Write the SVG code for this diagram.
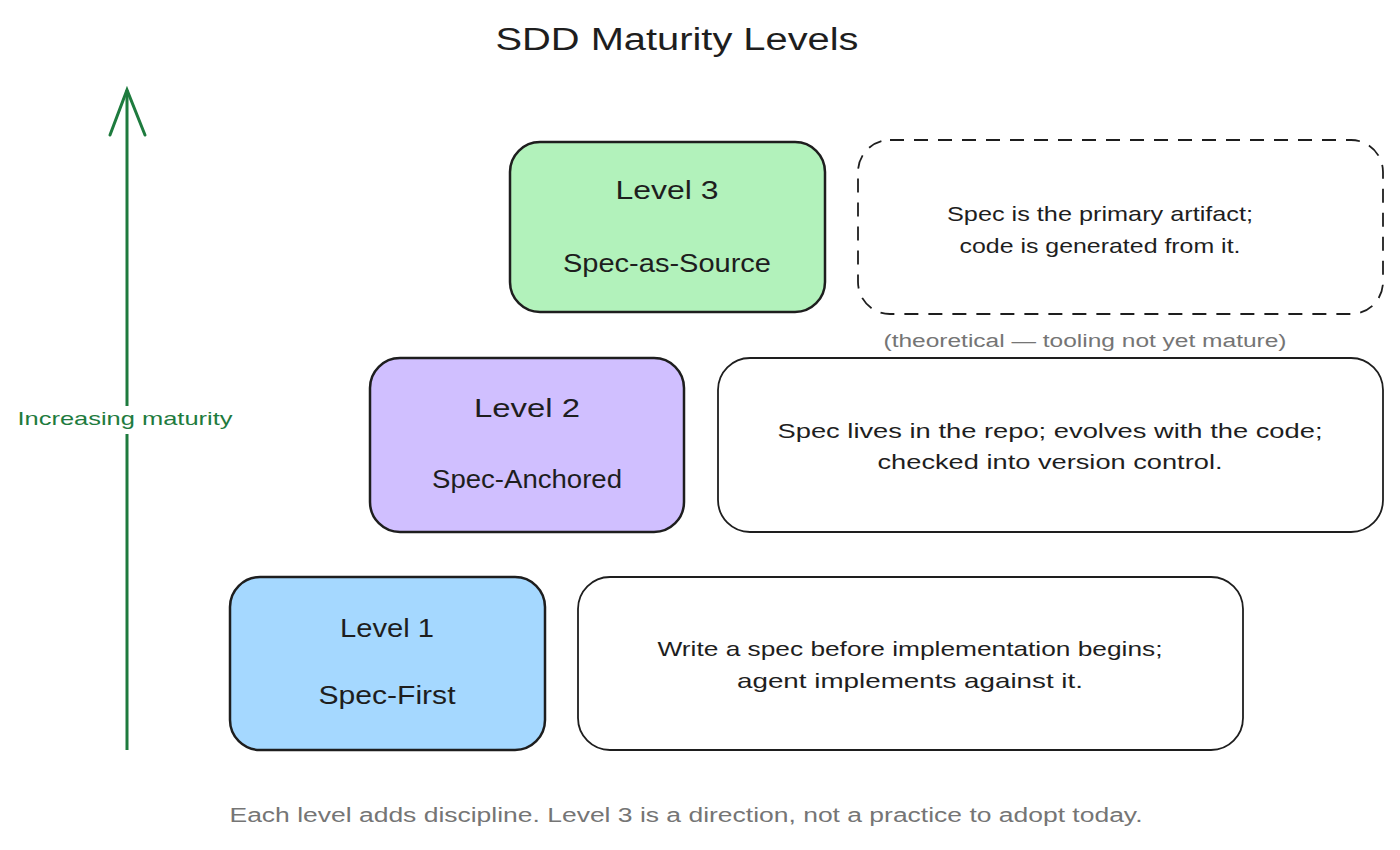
<svg xmlns="http://www.w3.org/2000/svg" width="1400" height="850" viewBox="0 0 1400 850">
<style>
text{font-family:"Liberation Sans",Arial,sans-serif;fill:#1e1e1e;text-anchor:middle;dominant-baseline:middle}
.box{stroke:#1e1e1e;stroke-width:2.5}
.desc{fill:#fff;stroke:#1e1e1e;stroke-width:1.8}
.lv{font-size:25px}
.d{font-size:21px}
.grey{fill:#757575}
</style>
<rect width="1400" height="850" fill="#fff"/>
<text x="677" y="42" font-size="31" textLength="363" lengthAdjust="spacingAndGlyphs">SDD Maturity Levels</text>
<g id="connectors">
<line x1="127" y1="750" x2="127" y2="90" stroke="#1e7b3e" stroke-width="3"/>
<path d="M110,135 L127,90 L145,135" fill="none" stroke="#1e7b3e" stroke-width="3" stroke-linecap="round"/>
</g>
<g id="axis-label">
<rect x="15" y="406" width="220" height="28" fill="#fff"/>
<text x="125" y="420" font-size="19" textLength="215" lengthAdjust="spacingAndGlyphs" style="fill:#1e7b3e">Increasing maturity</text>
</g>
<g id="level3">
<rect class="box" x="510" y="142" width="315" height="170" rx="30" fill="#b2f2bb"/>
<text class="lv" x="667" y="192" textLength="103" lengthAdjust="spacingAndGlyphs">Level 3</text>
<text class="lv" x="667" y="265" textLength="208" lengthAdjust="spacingAndGlyphs">Spec-as-Source</text>
</g>
<g id="desc3">
<rect class="desc" x="858" y="140" width="525" height="174" rx="32" stroke-dasharray="14 10"/>
<text class="d" x="1100" y="215" textLength="306" lengthAdjust="spacingAndGlyphs">Spec is the primary artifact;</text>
<text class="d" x="1100" y="247" textLength="281" lengthAdjust="spacingAndGlyphs">code is generated from it.</text>
</g>
<g id="caption3">
<text x="1085" y="342" font-size="18" textLength="403" lengthAdjust="spacingAndGlyphs" class="grey">(theoretical — tooling not yet mature)</text>
</g>
<g id="level2">
<rect class="box" x="370" y="358" width="314" height="174" rx="30" fill="#d0bfff"/>
<text class="lv" x="527" y="410" textLength="106" lengthAdjust="spacingAndGlyphs">Level 2</text>
<text class="lv" x="527" y="481" textLength="190" lengthAdjust="spacingAndGlyphs">Spec-Anchored</text>
</g>
<g id="desc2">
<rect class="desc" x="718" y="358" width="665" height="174" rx="32"/>
<text class="d" x="1050" y="432" textLength="545" lengthAdjust="spacingAndGlyphs">Spec lives in the repo; evolves with the code;</text>
<text class="d" x="1050" y="463" textLength="345" lengthAdjust="spacingAndGlyphs">checked into version control.</text>
</g>
<g id="level1">
<rect class="box" x="230" y="577" width="315" height="173" rx="30" fill="#a5d8ff"/>
<text class="lv" x="387" y="630" textLength="94" lengthAdjust="spacingAndGlyphs">Level 1</text>
<text class="lv" x="387" y="697" textLength="137" lengthAdjust="spacingAndGlyphs">Spec-First</text>
</g>
<g id="desc1">
<rect class="desc" x="578" y="577" width="665" height="173" rx="32"/>
<text class="d" x="910" y="650" textLength="505" lengthAdjust="spacingAndGlyphs">Write a spec before implementation begins;</text>
<text class="d" x="910" y="682" textLength="346" lengthAdjust="spacingAndGlyphs">agent implements against it.</text>
</g>
<g id="footer">
<text x="686" y="817" font-size="20" textLength="913" lengthAdjust="spacingAndGlyphs" class="grey">Each level adds discipline. Level 3 is a direction, not a practice to adopt today.</text>
</g>
</svg>
